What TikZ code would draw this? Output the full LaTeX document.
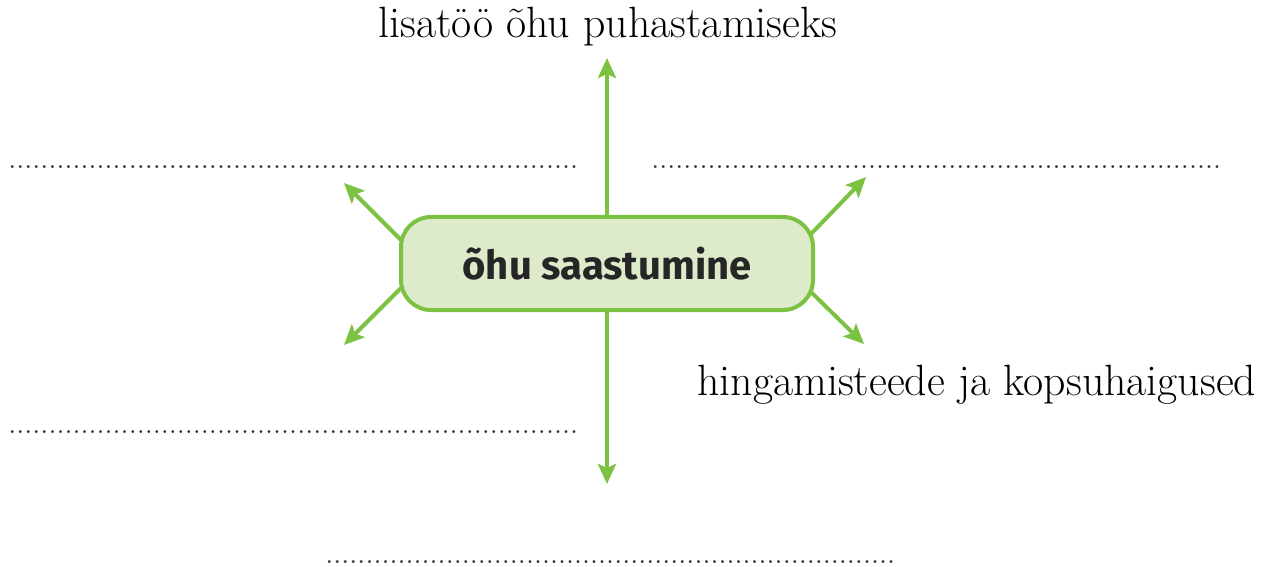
\documentclass[tikz,border=0pt]{standalone}
\usepackage{fontspec}
\newfontfamily\boxfont{Fira Sans}
\usetikzlibrary{arrows.meta}
\definecolor{lgreen}{HTML}{7CC242}
\definecolor{lfill}{HTML}{DDEBCB}
\newcommand{\dotrow}{\fontsize{14.75pt}{16pt}\selectfont
.......................................................................}
\begin{document}
\begin{tikzpicture}[x=0.5pt,y=-0.5pt,
  mainbox/.style={draw=lgreen,fill=lfill,line width=2pt,rounded corners=15pt,
    minimum width=206pt,minimum height=46.5pt,inner sep=0pt,
    font=\boxfont\bfseries\fontsize{20pt}{22pt}\selectfont,text=black!85},
  lbl/.style={inner sep=0pt,font=\fontsize{21.9pt}{24pt}\selectfont},
  dots/.style={inner sep=0pt,anchor=base west,text=black!80},
  garrow/.style={draw=lgreen,line width=2pt,-{Stealth[length=10pt,width=9pt,inset=2pt]}}]
\useasboundingbox (0,0) rectangle (1276,567);
\node[mainbox] (box) at (607,263.5) {õhu saastumine};
% end points
\coordinate (up) at (607,58);
\coordinate (down) at (607,484);
\coordinate (ul) at (344,183);
\coordinate (ll) at (344,345);
\coordinate (ur) at (866,177);
\coordinate (lr) at (864,344);
\coordinate (bul) at (401,240);
\coordinate (bll) at (401,288);
\coordinate (bur) at (811,234);
\coordinate (blr) at (811,292);
\draw[garrow] (box.north) -- (up);
\draw[garrow] (box.south) -- (down);
\draw[garrow] (bul) -- (ul);
\draw[garrow] (bll) -- (ll);
\draw[garrow] (bur) -- (ur);
\draw[garrow] (blr) -- (lr);
% labels
\node[lbl,anchor=base] (t1) at (608,38) {lisatöö õhu puhastamiseks};
\node[lbl,anchor=base west] (t2) at (697,395) {hingamisteede ja kopsuhaigused};
% dotted answer lines
\node[dots] (d1) at (8,169) {\dotrow};
\node[dots] (d2) at (651,169) {\dotrow};
\node[dots] (d3) at (8,433) {\dotrow};
\node[dots] (d4) at (325,563) {\dotrow};
\end{tikzpicture}
\end{document}
